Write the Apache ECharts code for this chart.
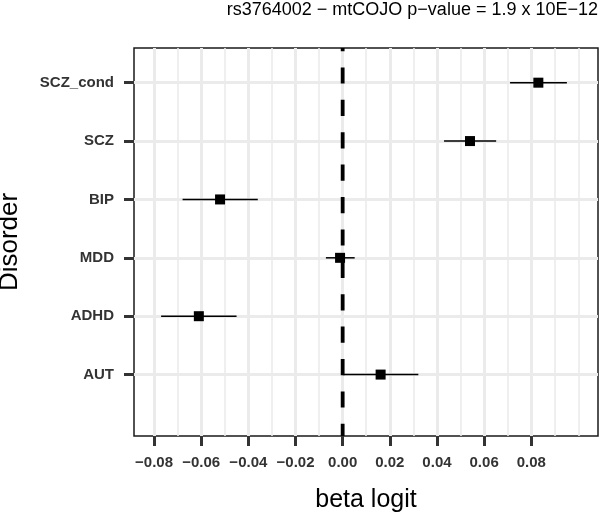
<!DOCTYPE html>
<html>
<head>
<meta charset="utf-8">
<script src="https://cdn.jsdelivr.net/npm/echarts@6/dist/echarts.min.js"></script>
<style>html,body{margin:0;padding:0;background:#fff;}#c{width:600px;height:513px;}</style>
</head>
<body>
<div id="c"></div>
<script>
// ---- data ----
const categories = ['AUT', 'ADHD', 'MDD', 'BIP', 'SCZ', 'SCZ_cond']; // bottom to top
const beta  = [0.0161, -0.0610, -0.0011, -0.0520, 0.0540, 0.0830];
const lower = [0.0000, -0.0770, -0.0071, -0.0679, 0.0430, 0.0710];
const upper = [0.0321, -0.0450, 0.0051, -0.0360, 0.0651, 0.0951];
const xTickValues = [-0.08, -0.06, -0.04, -0.02, 0.00, 0.02, 0.04, 0.06, 0.08];
const xMinorValues = [-0.07, -0.05, -0.03, -0.01, 0.01, 0.03, 0.05, 0.07, 0.09, 0.10];
const refX = 0;
const titleText = 'rs3764002 \u2212 mtCOJO p\u2212value = 1.9 x 10E\u221212';
const xName = 'beta logit';
const yName = 'Disorder';

// axis limits
const xMin = -0.0885, xMax = 0.1083;
const yMin = -0.052, yMax = 6.594;

const catIdx = categories.map((c, i) => i + 1);
const pointData = categories.map((c, i) => [beta[i], i + 1]);
const barData = categories.map((c, i) => [lower[i], upper[i], i + 1]);

const chart = echarts.init(document.getElementById('c'), null, {renderer: 'canvas'});
const gridColor = '#ebebeb';
const fmt = v => (v < 0 ? '\u2212' : '') + Math.abs(v).toFixed(2);

chart.setOption({
  animation: false,
  backgroundColor: '#fff',
  title: {
    text: titleText,
    right: 2,
    top: 1,
    padding: 0,
    textStyle: {fontFamily: 'Liberation Sans', fontSize: 18, fontWeight: 'normal', color: '#000'}
  },
  grid: {left: 134, right: 2, top: 48, bottom: 77, show: true, borderColor: '#1a1a1a', borderWidth: 1.5, backgroundColor: 'transparent', containLabel: false, outerBoundsMode: 'none'},
  xAxis: {
    type: 'value', min: xMin, max: xMax,
    name: xName, nameLocation: 'middle', nameGap: 52,
    nameTextStyle: {fontFamily: 'Liberation Sans', fontSize: 25, color: '#000'},
    axisLine: {show: false, onZero: false},
    axisTick: {show: true, customValues: xTickValues, length: 10, lineStyle: {color: '#333', width: 3}},
    axisLabel: {customValues: xTickValues, formatter: fmt, margin: 19, fontFamily: 'Liberation Sans', fontWeight: 'bold', fontSize: 15, color: '#333'},
    splitLine: {show: false}
  },
  yAxis: {
    type: 'value', min: yMin, max: yMax,
    name: yName, nameLocation: 'middle', nameGap: 111, nameRotate: 90,
    nameTextStyle: {fontFamily: 'Liberation Sans', fontSize: 26, color: '#000'},
    axisLine: {show: false, onZero: false},
    axisTick: {show: true, customValues: catIdx, length: 10, lineStyle: {color: '#333', width: 3}},
    axisLabel: {customValues: catIdx, formatter: v => categories[Math.round(v) - 1] || '', margin: 20, fontFamily: 'Liberation Sans', fontWeight: 'bold', fontSize: 15, color: '#333'},
    splitLine: {show: false}
  },
  series: [
    { // minor vertical grid
      type: 'line', data: [], silent: true, z: 0,
      markLine: {silent: true, z: 0, symbol: 'none', label: {show: false}, animation: false,
        lineStyle: {color: gridColor, width: 1.6, type: 'solid'},
        data: xMinorValues.map(v => ({xAxis: v}))}
    },
    { // major vertical + horizontal grid
      type: 'line', data: [], silent: true, z: 0,
      markLine: {silent: true, z: 0, symbol: 'none', label: {show: false}, animation: false,
        lineStyle: {color: gridColor, width: 3, type: 'solid'},
        data: xTickValues.map(v => ({xAxis: v})).concat(catIdx.map(v => ({yAxis: v})))}
    },
    { // reference dashed line
      type: 'line', silent: true, z: 3, symbol: 'none',
      data: [[refX, yMax], [refX, yMin]],
      lineStyle: {color: '#000', width: 3.8, opacity: 1, type: [16.2, 16.2], dashOffset: 13}
    },
    { // error bars
      type: 'custom', z: 4, silent: true,
      data: barData,
      renderItem: (params, api) => {
        const p1 = api.coord([api.value(0), api.value(2)]);
        const p2 = api.coord([api.value(1), api.value(2)]);
        return {type: 'line', shape: {x1: p1[0], y1: p1[1], x2: p2[0], y2: p2[1]}, style: {stroke: '#000', lineWidth: 1.5}};
      }
    },
    { // points
      type: 'scatter', z: 5, silent: true,
      symbol: 'rect', symbolSize: 10,
      itemStyle: {color: '#000', opacity: 1},
      data: pointData
    }
  ]
});
</script>
</body>
</html>
